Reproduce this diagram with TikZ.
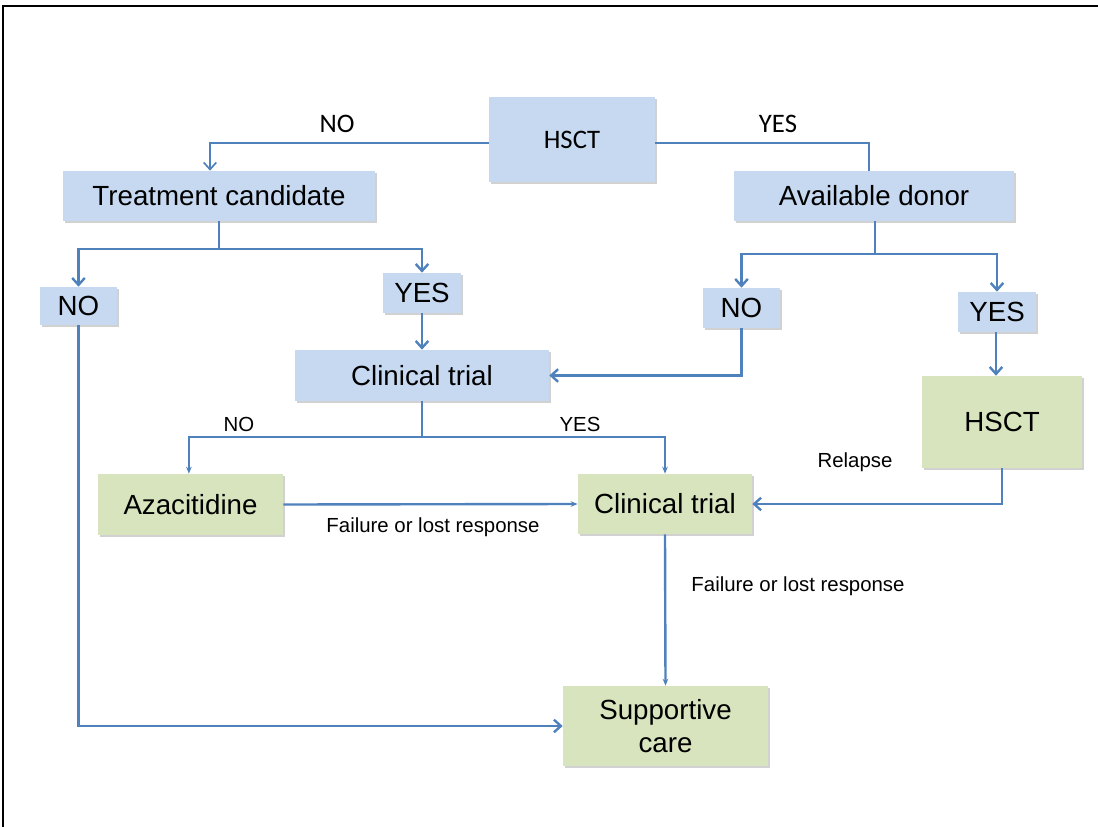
\documentclass[tikz,border=0pt]{standalone}
\usepackage{fontspec}
\setmainfont{Liberation Sans}
\newfontfamily\calibri{Carlito}
\usetikzlibrary{positioning, arrows.meta, shadows}
\definecolor{qblue}{HTML}{C6D9F1}
\definecolor{tgreen}{HTML}{D7E4BD}
\definecolor{linkblue}{HTML}{4F81BD}

\begin{document}
\begin{tikzpicture}[
    x=0.025cm, y=-0.025cm,
    every node/.style={font=\fontsize{19.7}{23}\selectfont},
    block/.style={inner sep=0pt, align=center,
      drop shadow={shadow xshift=1.2pt, shadow yshift=-1.2pt, fill=black, opacity=0.18}},
    qbox/.style={block, fill=qblue},
    tbox/.style={block, fill=tgreen},
    lbl/.style={font=\fontsize{14.5}{17}\selectfont},
    toplbl/.style={font=\calibri\fontsize{19}{22}\selectfont},
    link/.style={draw=linkblue, line width=1.7pt},
    >={Straight Barb[length=5pt, width=9pt]},
    tip/.style={-{Stealth[length=5pt, width=4pt]}},
  ]
  \useasboundingbox (0,0) rectangle (1098,827);
  \draw[line width=1.1pt] (3,827) -- (3,6) -- (1098,6);

  % Decision on transplant
  \node[qbox, minimum width=4.15cm, minimum height=2.125cm, font=\calibri\fontsize{19}{22}\selectfont] (hsct0) at (572,139.5) {HSCT};
  \node[qbox, minimum width=7.8cm, minimum height=1.25cm] (cand) at (219,196) {Treatment candidate};
  \node[qbox, minimum width=7cm, minimum height=1.25cm] (donor) at (874,196) {Available donor};
  \draw[link, line width=1.2pt, ->] (hsct0.west |- 0,143) -| ([xshift=-0.225cm]cand.north);
  \draw[link, line width=1.2pt] (hsct0.east |- 0,143) -| ([xshift=-0.125cm]donor.north);
  \node[toplbl] (nolbl0) at (337,124) {NO};
  \node[toplbl] (yeslbl0) at (778,124) {YES};

  % Treatment candidate branch
  \node[qbox, minimum width=1.925cm, minimum height=0.95cm] (noL) at (78.5,306) {NO};
  \node[qbox, minimum width=1.95cm, minimum height=1cm] (yesL) at (422,293) {YES};
  \coordinate (candfork) at (219,249);
  \draw[link] (cand.south) -- (candfork);
  \draw[link, ->] (candfork) -| (noL.north);
  \draw[link, ->] (candfork) -| (yesL.north);

  % Donor branch
  \node[qbox, minimum width=1.925cm, minimum height=1cm] (noR) at (741.5,308) {NO};
  \node[qbox, minimum width=1.95cm, minimum height=1cm] (yesR) at (997,312) {YES};
  \coordinate (donorfork) at (875,254);
  \draw[link] ([xshift=0.025cm]donor.south) -- (donorfork);
  \draw[link, ->] (donorfork) -| (noR.north);
  \draw[link, ->] (donorfork) -| (yesR.north);

  % Clinical trial / HSCT
  \node[qbox, minimum width=6.35cm, minimum height=1.275cm] (trial) at (422,375.5) {Clinical trial};
  \node[tbox, minimum width=4cm, minimum height=2.3cm] (hsct) at (1002,422) {HSCT};
  \draw[link, ->] (yesL.south) -- (trial.north);
  \draw[link, ->] (noR.south) |- (trial.east);
  \draw[link, ->] ([xshift=-0.025cm]yesR.south) -- ([xshift=-0.025cm]yesR.south |- hsct.north);

  % Second line
  \node[tbox, minimum width=4.625cm, minimum height=1.525cm] (aza) at (190.5,504.5) {Azacitidine};
  \node[tbox, minimum width=4.35cm, minimum height=1.5cm] (trial2) at (665,504) {Clinical trial};
  \coordinate (trialfork) at (422,437);
  \draw[link] (trial.south) -- (trialfork);
  \draw[link, tip] (trialfork) -| ([xshift=-0.04cm]aza.north);
  \draw[link, tip] (trialfork) -| (trial2.north);
  \node[lbl] (nolbl1) at (239,424) {NO};
  \node[lbl] (yeslbl1) at (580,424) {YES};
  \draw[link, tip] (aza.east) -- (trial2.west);
  \node[lbl] (fail1) at (433,527) {Failure or lost response};
  \draw[link, ->] (hsct.south) |- (trial2.east);
  \node[lbl] (relapse) at (855,462) {Relapse};

  % Supportive care
  \node[tbox, minimum width=5.125cm, minimum height=2cm] (care) at (665.5,726) {Supportive\\care};
  \draw[link, tip] (trial2.south) -- (care.north);
  \node[lbl] (fail2) at (798,586) {Failure or lost response};
  \draw[link, ->] (noL.south) |- (care.west);
\end{tikzpicture}
\end{document}
